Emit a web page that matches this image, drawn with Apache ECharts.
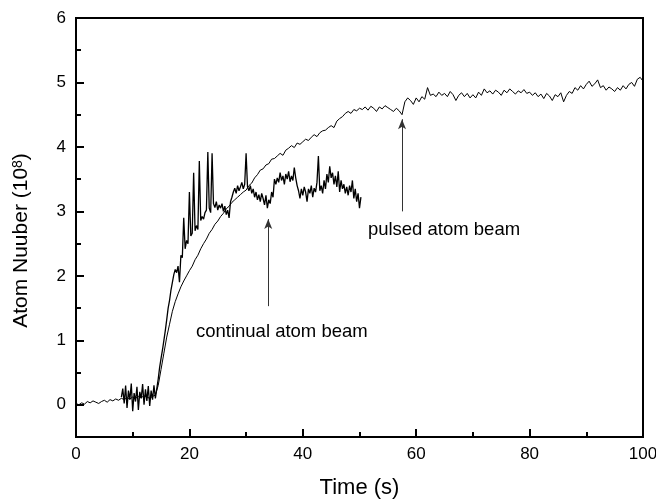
<!DOCTYPE html>
<html lang="en">
<head>
<meta charset="UTF-8">
<title>Atom number vs time</title>
<script src="https://cdn.jsdelivr.net/npm/echarts@6.0.0/dist/echarts.min.js"></script>
<style>
  html, body { margin: 0; padding: 0; background: #fff; }
  #main { width: 656px; height: 500px; }
</style>
</head>
<body>
<div id="main"></div>
<script>
// pulsed atom beam, sampled every 0.5 s from t = 0
var pulsedStart = 0, pulsedStep = 0.5;
var pulsed = [
  0.02,0.00,0.03,0.01,0.05,0.03,0.06,0.04,0.02,0.05,
  0.07,0.04,0.08,0.06,0.09,0.07,0.10,0.08,0.11,0.09,
  0.12,0.10,0.13,0.11,0.14,0.12,0.10,0.13,0.15,0.30,
  0.55,0.80,1.05,1.25,1.45,1.60,1.72,1.83,1.92,2.00,
  2.08,2.15,2.25,2.32,2.42,2.50,2.57,2.66,2.72,2.80,
  2.85,2.92,2.97,3.04,3.08,3.14,3.18,3.22,3.26,3.30,
  3.33,3.40,3.44,3.52,3.57,3.64,3.66,3.72,3.74,3.81,
  3.82,3.86,3.90,3.87,3.95,3.98,4.02,3.99,4.06,4.04,
  4.08,4.12,4.10,4.15,4.19,4.16,4.22,4.25,4.26,4.30,
  4.33,4.30,4.40,4.44,4.47,4.52,4.55,4.52,4.58,4.56,
  4.60,4.58,4.62,4.57,4.63,4.60,4.55,4.62,4.59,4.64,
  4.61,4.58,4.55,4.60,4.56,4.50,4.70,4.76,4.72,4.66,
  4.76,4.70,4.78,4.74,4.92,4.80,4.82,4.78,4.85,4.80,
  4.83,4.78,4.86,4.81,4.72,4.80,4.84,4.78,4.83,4.76,
  4.81,4.76,4.85,4.80,4.90,4.84,4.87,4.82,4.88,4.85,
  4.80,4.88,4.84,4.90,4.86,4.82,4.87,4.84,4.89,4.83,
  4.85,4.80,4.84,4.78,4.82,4.75,4.83,4.79,4.72,4.81,
  4.78,4.84,4.70,4.80,4.86,4.83,4.92,4.88,4.95,4.90,
  4.97,5.02,4.94,4.98,5.04,4.92,4.95,4.88,4.93,4.90,
  4.86,4.92,4.88,4.95,4.90,4.97,5.00,4.94,5.05,5.08,
  5.02
];
// continual atom beam, sampled every 0.25 s from t = 8
var contStart = 8, contStep = 0.25;
var continual = [
  0.12,0.25,0.02,0.30,-0.05,0.22,0.08,0.33,-0.10,0.18,
  0.05,0.28,-0.08,0.20,0.10,0.32,0.00,0.24,0.06,0.29,
  -0.02,0.22,0.08,0.30,0.10,0.25,0.40,0.58,0.72,0.85,
  1.00,1.15,1.32,1.50,1.62,1.78,1.90,2.02,2.10,2.05,
  2.15,1.90,2.32,2.28,2.90,2.42,2.55,2.50,3.30,2.62,
  2.66,3.60,2.70,2.78,2.72,3.78,2.86,2.92,2.88,2.98,
  3.02,3.92,3.05,2.98,3.90,3.12,3.06,3.15,3.02,3.10,
  3.05,3.12,3.00,3.08,2.95,3.02,2.90,3.15,3.22,3.30,
  3.36,3.28,3.40,3.32,3.38,3.45,3.35,3.42,3.90,3.38,
  3.32,3.40,3.28,3.35,3.22,3.30,3.18,3.26,3.15,3.28,
  3.20,3.10,3.25,3.05,3.18,3.12,3.30,3.22,3.50,3.42,
  3.52,3.45,3.60,3.48,3.55,3.42,3.58,3.50,3.62,3.46,
  3.55,3.48,3.68,3.52,3.40,3.32,3.20,3.35,3.25,3.38,
  3.30,3.15,3.35,3.28,3.40,3.22,3.36,3.30,3.45,3.86,
  3.32,3.40,3.28,3.48,3.35,3.58,3.45,3.70,3.52,3.60,
  3.42,3.55,3.38,3.62,3.30,3.48,3.35,3.42,3.28,3.38,
  3.25,3.40,3.30,3.48,3.20,3.35,3.15,3.28,3.05,3.22
];
var yMajor = [0, 1, 2, 3, 4, 5, 6];
var yMinor = [0.5, 1.5, 2.5, 3.5, 4.5, 5.5];

function pairs(vals, start, step) {
  var out = [];
  for (var i = 0; i < vals.length; i++) out.push([start + i * step, vals[i]]);
  return out;
}

var FONT = 'Liberation Sans';
var chart = echarts.init(document.getElementById('main'));

var option = {
  animation: false,
  backgroundColor: '#fff',
  textStyle: { fontFamily: FONT, color: '#000' },
  grid: {
    left: 76, right: 13, top: 18, bottom: 63,
    outerBoundsMode: 'none',
    show: true, borderColor: '#000', borderWidth: 2
  },
  xAxis: {
    type: 'value',
    min: 0, max: 100, interval: 20,
    name: 'Time (s)',
    nameLocation: 'middle',
    nameGap: 40,
    nameTextStyle: { fontSize: 22, fontFamily: FONT, color: '#000' },
    axisLine: { onZero: false, lineStyle: { color: '#000', width: 2 } },
    axisTick: { inside: true, length: 8, lineStyle: { color: '#000', width: 2 } },
    minorTick: { show: true, splitNumber: 2, length: 5, lineStyle: { color: '#000', width: 2 } },
    axisLabel: { fontSize: 17, fontFamily: FONT, color: '#000', margin: 9 },
    splitLine: { show: false }
  },
  yAxis: [
    {
      type: 'value',
      min: -0.5, max: 6,
      name: 'Atom Nuuber (10{sup|8})',
      nameLocation: 'middle',
      nameGap: 44,
      nameTextStyle: {
        fontSize: 21, fontFamily: FONT, color: '#000',
        padding: [0, 26, 0, 0],
        rich: { sup: { fontSize: 14, fontFamily: FONT, color: '#000', verticalAlign: 'top', lineHeight: 12 } }
      },
      axisLine: { onZero: false, lineStyle: { color: '#000', width: 2 } },
      axisTick: { inside: true, length: 8, customValues: yMajor, lineStyle: { color: '#000', width: 2 } },
      axisLabel: { fontSize: 17, fontFamily: FONT, color: '#000', margin: 10, customValues: yMajor },
      splitLine: { show: false }
    },
    {
      type: 'value',
      min: -0.5, max: 6,
      position: 'left',
      axisLine: { show: false, onZero: false },
      axisTick: { inside: true, length: 5, customValues: yMinor, lineStyle: { color: '#000', width: 2 } },
      axisLabel: { show: false },
      splitLine: { show: false }
    }
  ],
  series: [
    {
      name: 'pulsed atom beam',
      type: 'line',
      data: pairs(pulsed, pulsedStart, pulsedStep),
      showSymbol: false,
      lineStyle: { color: '#000', width: 1 },
      itemStyle: { color: '#000' },
      markLine: {
        silent: true,
        symbol: ['none', 'arrow'],
        symbolSize: [6, 10],
        label: { show: false },
        lineStyle: { color: '#333', width: 1, type: 'solid' },
        data: [[{ coord: [57.5, 3.0] }, { coord: [57.5, 4.43] }]]
      }
    },
    {
      name: 'continual atom beam',
      type: 'line',
      data: pairs(continual, contStart, contStep),
      showSymbol: false,
      lineStyle: { color: '#000', width: 1.3 },
      itemStyle: { color: '#000' },
      markLine: {
        silent: true,
        symbol: ['none', 'arrow'],
        symbolSize: [6, 10],
        label: { show: false },
        lineStyle: { color: '#333', width: 1, type: 'solid' },
        data: [[{ coord: [33.9, 1.53] }, { coord: [33.9, 2.88] }]]
      }
    }
  ]
};
chart.setOption(option);

// annotation texts, anchored in data coordinates
var p1 = chart.convertToPixel({ gridIndex: 0 }, [36.3, 1.13]);
var p2 = chart.convertToPixel({ gridIndex: 0 }, [64.9, 2.71]);
chart.setOption({
  graphic: [
    { type: 'text', x: p1[0], y: p1[1], style: { text: 'continual atom beam', font: '18.5px "Liberation Sans"', fill: '#000', align: 'center', verticalAlign: 'middle' } },
    { type: 'text', x: p2[0], y: p2[1], style: { text: 'pulsed atom beam', font: '18.5px "Liberation Sans"', fill: '#000', align: 'center', verticalAlign: 'middle' } }
  ]
});
</script>
</body>
</html>
